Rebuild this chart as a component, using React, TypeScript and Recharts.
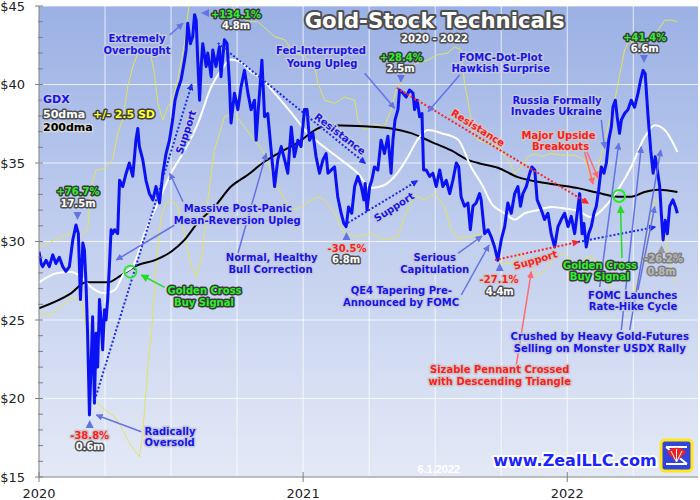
import React from 'react';
import { LineChart, Line, XAxis, YAxis, CartesianGrid, ReferenceLine, ReferenceDot } from 'recharts';

// time unit: years since 1 Jan 2020
type Pt = [number, number];

const gdx: Pt[] = [
  [0.000,29.35],[0.008,28.6],[0.014,28.4],[0.027,28.8],[0.039,28.4],[0.052,29.15],[0.064,28.6],[0.077,29.0],[0.090,28.4],[0.102,28.1],
  [0.115,28.4],[0.128,30.1],[0.140,31.05],[0.149,30.5],[0.157,26.3],[0.166,29.9],[0.172,29.45],[0.178,27.35],[0.184,24.15],[0.191,18.95],
  [0.197,22.0],[0.203,25.2],[0.210,19.7],[0.216,24.15],[0.222,22.0],[0.229,26.3],[0.235,25.0],[0.241,23.1],[0.248,25.65],[0.254,25.0],
  [0.260,26.3],[0.267,28.6],[0.273,30.75],[0.279,30.5],[0.286,30.75],[0.298,30.5],[0.305,33.9],[0.317,33.5],[0.330,34.35],[0.342,35.0],
  [0.355,34.15],[0.367,36.45],[0.374,37.2],[0.380,36.05],[0.393,35.2],[0.405,33.9],[0.418,33.05],[0.431,32.65],[0.443,33.5],[0.456,32.45],
  [0.469,34.35],[0.481,35.6],[0.494,36.45],[0.506,37.75],[0.515,39.0],[0.525,39.65],[0.538,40.3],[0.551,41.55],[0.557,42.2],[0.563,43.9],
  [0.573,42.6],[0.582,43.05],[0.589,44.45],[0.595,44.1],[0.601,41.55],[0.608,39.0],[0.614,41.15],[0.620,42.6],[0.633,41.15],[0.639,42.0],
  [0.652,40.5],[0.658,42.2],[0.670,41.15],[0.683,42.4],[0.689,40.5],[0.702,42.85],[0.712,42.6],[0.721,40.1],[0.727,37.55],[0.740,39.45],
  [0.753,38.4],[0.765,39.85],[0.778,40.9],[0.791,39.45],[0.803,38.4],[0.816,39.0],[0.822,36.45],[0.828,37.95],[0.835,39.45],[0.844,41.55],
  [0.854,37.95],[0.866,38.15],[0.879,35.8],[0.892,33.5],[0.904,35.2],[0.917,36.05],[0.930,35.2],[0.942,34.35],[0.955,37.3],[0.967,35.4],
  [0.980,36.45],[0.992,36.05],[1.005,38.4],[1.015,38.4],[1.024,36.45],[1.037,36.9],[1.049,35.4],[1.062,34.35],[1.075,35.2],[1.087,35.6],
  [1.094,34.35],[1.106,34.55],[1.119,34.75],[1.131,32.85],[1.144,31.8],[1.154,31.15],[1.163,30.95],[1.172,32.2],[1.184,31.8],[1.195,33.5],
  [1.207,34.15],[1.220,33.5],[1.230,32.65],[1.235,33.7],[1.242,32.0],[1.252,33.5],[1.260,33.9],[1.270,34.75],[1.283,34.55],[1.295,36.45],
  [1.308,35.6],[1.321,36.7],[1.333,34.35],[1.340,36.45],[1.348,37.75],[1.359,38.4],[1.365,39.65],[1.378,39.45],[1.390,39.2],[1.403,39.65],
  [1.416,39.45],[1.422,38.4],[1.432,39.0],[1.441,37.95],[1.450,38.15],[1.456,34.55],[1.466,34.55],[1.479,34.15],[1.491,34.35],[1.504,33.5],
  [1.517,34.55],[1.529,33.5],[1.542,33.9],[1.555,33.05],[1.567,33.9],[1.580,35.0],[1.589,34.75],[1.598,32.85],[1.611,32.25],[1.624,32.45],
  [1.633,30.75],[1.643,32.25],[1.655,32.45],[1.668,33.05],[1.674,32.65],[1.687,30.5],[1.700,30.75],[1.712,30.3],[1.725,29.65],[1.737,28.8],
  [1.750,30.1],[1.763,30.95],[1.775,32.45],[1.788,31.8],[1.801,33.05],[1.813,33.5],[1.823,32.25],[1.832,33.05],[1.845,33.5],[1.858,34.35],
  [1.866,34.75],[1.877,34.55],[1.886,32.65],[1.902,32.0],[1.914,31.4],[1.927,31.8],[1.939,30.5],[1.952,29.65],[1.965,30.95],[1.977,31.4],
  [1.990,31.8],[2.003,30.95],[2.015,31.6],[2.028,30.5],[2.041,32.25],[2.047,33.05],[2.056,30.5],[2.063,31.15],[2.072,29.65],[2.081,30.5],
  [2.091,30.95],[2.101,31.8],[2.110,32.25],[2.119,33.3],[2.129,34.75],[2.139,34.35],[2.148,35.0],[2.157,36.45],[2.167,37.3],[2.173,38.55],
  [2.182,39.0],[2.189,37.95],[2.198,36.9],[2.205,37.75],[2.217,38.15],[2.230,38.4],[2.242,39.0],[2.255,38.55],[2.268,39.45],[2.278,40.3],
  [2.287,40.9],[2.295,40.7],[2.306,37.95],[2.316,35.8],[2.325,34.35],[2.333,35.4],[2.341,34.55],[2.350,33.5],[2.356,31.8],[2.363,30.1],
  [2.371,31.35],[2.379,30.5],[2.388,32.25],[2.400,32.65],[2.409,32.25],[2.417,31.8],
];

const ma50: Pt[] = [
  [0.000,27.4],[0.071,28.0],[0.121,28.05],[0.159,27.75],[0.197,27.1],[0.248,26.7],[0.286,26.9],[0.323,28.0],[0.355,28.4],[0.399,30.5],
  [0.450,32.45],[0.500,34.35],[0.551,35.8],[0.601,37.5],[0.652,39.85],[0.689,40.9],[0.727,41.6],[0.765,41.4],[0.803,40.8],[0.847,40.3],
  [0.892,39.45],[0.955,38.2],[1.018,36.9],[1.081,36.0],[1.144,35.2],[1.207,34.35],[1.258,33.4],[1.308,33.6],[1.359,34.4],[1.397,35.4],
  [1.434,36.5],[1.472,37.1],[1.523,36.9],[1.586,36.5],[1.636,34.75],[1.681,33.5],[1.712,32.45],[1.763,31.8],[1.801,31.4],[1.839,31.8],
  [1.889,32.0],[1.939,32.2],[1.990,32.1],[2.041,31.95],[2.091,31.55],[2.142,32.2],[2.192,33.3],[2.242,34.75],[2.293,36.65],[2.331,37.4],
  [2.369,37.1],[2.417,35.7],
];

const ma200: Pt[] = [
  [0.000,25.75],[0.121,26.7],[0.178,27.4],[0.260,27.4],[0.311,27.85],[0.374,28.5],[0.437,28.8],[0.500,29.35],[0.551,30.1],[0.601,31.2],
  [0.664,32.2],[0.727,33.5],[0.791,34.25],[0.847,35.0],[0.904,35.6],[0.980,36.3],[1.056,37.2],[1.094,37.4],[1.207,37.35],[1.333,37.2],
  [1.409,36.9],[1.485,36.35],[1.561,35.8],[1.624,35.2],[1.662,35.0],[1.737,34.7],[1.813,34.1],[1.889,33.8],[1.965,33.6],[2.041,33.4],
  [2.116,33.1],[2.192,32.85],[2.242,32.85],[2.293,33.15],[2.344,33.3],[2.417,33.15],
];

const bandUpper: Pt[] = [
  [0.000,29.65],[0.020,29.75],[0.083,30.3],[0.121,30.5],[0.159,30.4],[0.184,30.75],[0.197,33.5],[0.216,34.55],[0.248,34.65],[0.279,35.2],
  [0.298,36.9],[0.317,37.75],[0.336,39.85],[0.355,41.15],[0.374,42.0],[0.399,42.2],[0.424,41.8],[0.437,40.7],[0.450,38.8],[0.469,37.75],
  [0.488,38.6],[0.506,39.0],[0.525,40.3],[0.551,42.6],[0.570,45.4],[0.610,47.0],[0.666,46.0],[0.722,45.2],[0.760,44.3],[0.798,44.0],
  [0.828,44.0],[0.866,43.45],[0.892,43.05],[0.930,42.85],[0.967,42.0],[1.005,41.8],[1.043,41.15],[1.056,40.1],[1.081,39.0],[1.119,38.8],
  [1.157,39.2],[1.195,39.0],[1.207,37.75],[1.233,37.1],[1.270,37.5],[1.308,37.3],[1.333,38.4],[1.352,39.65],[1.371,40.1],[1.397,41.15],
  [1.434,41.35],[1.472,41.55],[1.510,41.9],[1.548,42.0],[1.573,42.4],[1.598,42.2],[1.611,40.1],[1.630,38.4],[1.643,36.9],[1.662,36.45],
  [1.700,36.25],[1.737,36.05],[1.775,35.2],[1.801,34.35],[1.826,34.75],[1.851,35.4],[1.877,35.6],[1.902,35.4],[1.939,35.6],[1.977,35.5],
  [2.028,35.5],[2.066,35.2],[2.091,34.0],[2.110,34.2],[2.129,35.6],[2.154,37.3],[2.180,39.0],[2.205,41.15],[2.217,42.2],[2.236,42.85],
  [2.255,42.4],[2.293,42.6],[2.318,42.85],[2.344,43.45],[2.369,44.1],[2.394,44.1],[2.417,44.0],
];

const bandLower: Pt[] = [
  [0.000,25.45],[0.045,25.3],[0.121,26.4],[0.159,26.3],[0.184,24.15],[0.210,19.9],[0.248,19.3],[0.286,18.85],[0.311,18.2],[0.336,17.35],
  [0.361,16.7],[0.380,16.3],[0.393,17.8],[0.412,22.0],[0.431,25.2],[0.443,28.4],[0.462,31.6],[0.481,32.45],[0.500,32.65],[0.525,32.2],
  [0.551,30.5],[0.576,28.4],[0.595,27.75],[0.614,28.8],[0.639,32.65],[0.664,35.8],[0.702,37.95],[0.740,38.15],[0.778,37.3],[0.816,36.45],
  [0.847,35.8],[0.866,35.0],[0.904,33.5],[0.930,32.65],[0.955,32.0],[0.992,32.2],[1.030,32.65],[1.056,32.85],[1.081,32.65],[1.119,31.8],
  [1.157,30.5],[1.207,30.3],[1.258,30.5],[1.308,30.1],[1.359,30.3],[1.384,31.6],[1.409,32.45],[1.434,32.85],[1.460,32.65],[1.498,33.05],
  [1.536,32.2],[1.561,30.75],[1.586,30.2],[1.636,30.3],[1.681,30.5],[1.700,30.75],[1.725,29.65],[1.750,28.6],[1.788,28.6],[1.826,29.25],
  [1.864,28.4],[1.889,27.75],[1.927,28.4],[1.952,29.05],[1.990,29.25],[2.015,28.7],[2.041,28.4],[2.078,29.05],[2.116,28.75],[2.142,27.95],
  [2.167,26.9],[2.192,26.3],[2.217,25.85],[2.255,26.9],[2.293,29.25],[2.331,32.65],[2.350,32.45],[2.369,30.5],[2.388,28.6],[2.417,27.35],
];

// trend lines (start, end) in [years since 2020, price]
const blueTrends: [Pt, Pt][] = [
  [[0.211,19.9],[0.578,40.0]],
  [[0.677,42.64],[1.234,35.0]],
  [[1.169,31.18],[1.431,33.85]],
  [[2.041,29.97],[2.332,30.92]],
];
const redTrends: [Pt, Pt][] = [
  [[1.355,39.78],[2.078,32.45]],
  [[1.726,28.82],[2.041,29.97]],
];
const goldenCrosses: Pt[] = [[0.346,28.08],[2.196,32.9]];

const yearTicks = [0, 1, 2];
const baseYear = 2020;
const quarterLines = [0.25,0.5,0.75,1,1.25,1.5,1.75,2,2.25];
const priceGrid = [15,20,25,30,35,40,45];
const priceTicks = [15,16,17,18,19,20,21,22,23,24,25,26,27,28,29,30,31,32,33,34,35,36,37,38,39,40,41,42,43,44,45];

const rows = (pts: Pt[]) => pts.map(([t, p]) => ({ t, p }));

const FONT = "'DejaVu Sans', Verdana, sans-serif";

const YTick = (props: any) => {
  const { x, y, payload } = props;
  const v = payload.value;
  const major = v % 5 === 0;
  return (
    <g>
      <line x1={major ? x - 4 : x - 1} x2={x + 4} y1={y} y2={y} stroke="#808080" strokeWidth={1} />
      {major && (
        <text x={x - 14} y={y} dy="0.36em" textAnchor="end" fontFamily={FONT} fontSize={13} fill="#222">
          {'$' + v}
        </text>
      )}
    </g>
  );
};

const XTick = (props: any) => {
  const { x, y, payload } = props;
  return (
    <g>
      <line x1={x} x2={x} y1={y - 5} y2={y + 5} stroke="#808080" strokeWidth={1} />
      <text x={x} y={y + 21} textAnchor="middle" fontFamily={FONT} fontSize={13} fill="#222">
        {String(baseYear + payload.value)}
      </text>
    </g>
  );
};

const STY: Record<string, { fill: string; stroke: string }> = {
  blue: { fill: '#1414f0', stroke: '#c6c8d8' },
  red: { fill: '#ff1c1c', stroke: '#c8c8cc' },
  green: { fill: '#2cf02c', stroke: '#3a3a3a' },
  white: { fill: '#ffffff', stroke: '#4e4e4e' },
  gray: { fill: '#b8b8b8', stroke: '#808080' },
  yellow: { fill: '#ffff2a', stroke: '#404040' },
  black: { fill: '#000000', stroke: '#d8d8d8' },
};

const T = ({ x, y, s, k = 'blue', size = 10, anchor = 'middle', rot = 0, sw = 3, central = false, len }: any) => (
  <text
    x={x}
    y={y}
    textAnchor={anchor}
    dominantBaseline={central ? 'central' : undefined}
    fontFamily={FONT}
    fontWeight="bold"
    fontSize={size}
    fill={STY[k].fill}
    stroke={STY[k].stroke}
    strokeWidth={sw}
    strokeLinejoin="round"
    paintOrder="stroke"
    textLength={len}
    lengthAdjust={len ? 'spacingAndGlyphs' : undefined}
    transform={rot ? `rotate(${rot} ${x} ${y})` : undefined}
  >
    {s}
  </text>
);

const ARROW_BLUE = '#6373e6';
const ARROW_RED = '#ff6a6a';
const ARROW_GREEN = '#22dd22';

const Arr = ({ a, c = 'b' }: any) => {
  const col = c === 'r' ? ARROW_RED : c === 'g' ? ARROW_GREEN : ARROW_BLUE;
  const id = c === 'r' ? 'ahR' : c === 'g' ? 'ahG' : 'ahB';
  return <line x1={a[0]} y1={a[1]} x2={a[2]} y2={a[3]} stroke={col} strokeWidth={1.5} markerEnd={`url(#${id})`} />;
};

const Tri = ({ x, y, d, col = ARROW_BLUE }: any) => {
  const s = 4;
  let pts = '';
  if (d === 'down') pts = `${x - s},${y - s} ${x + s},${y - s} ${x},${y + s}`;
  else if (d === 'up') pts = `${x - s},${y + s} ${x + s},${y + s} ${x},${y - s}`;
  else pts = `${x + s},${y - s} ${x + s},${y + s} ${x - s},${y}`;
  return <polygon points={pts} fill={col} />;
};

const Overlay = () => (
  <svg width={700} height={500} style={{ position: 'absolute', left: 0, top: 0, pointerEvents: 'none' }}>
    <defs>
      <marker id="ahB" viewBox="0 0 10 10" refX="9" refY="5" markerWidth="7" markerHeight="7" markerUnits="userSpaceOnUse" orient="auto">
        <path d="M0,0 L10,5 L0,10 z" fill={ARROW_BLUE} />
      </marker>
      <marker id="ahR" viewBox="0 0 10 10" refX="9" refY="5" markerWidth="7" markerHeight="7" markerUnits="userSpaceOnUse" orient="auto">
        <path d="M0,0 L10,5 L0,10 z" fill={ARROW_RED} />
      </marker>
      <marker id="ahG" viewBox="0 0 10 10" refX="9" refY="5" markerWidth="8" markerHeight="8" markerUnits="userSpaceOnUse" orient="auto">
        <path d="M0,0 L10,5 L0,10 z" fill={ARROW_GREEN} />
      </marker>
    </defs>

    {/* arrows */}
    <Arr a={[169.7, 35, 183, 23.3]} />
    <Arr a={[183, 201.7, 169.7, 173.3]} />
    <Arr a={[174.7, 225, 116.3, 260]} />
    <Arr a={[238, 253, 266.3, 153.3]} />
    <Arr a={[141.3, 431.7, 96.3, 415]} />
    <Arr a={[364.7, 73.3, 394.7, 108.3]} />
    <Arr a={[459.7, 75, 428, 111.7]} />
    <Arr a={[458, 253.3, 482, 236]} />
    <Arr a={[461.3, 295, 489, 245]} />
    <Arr a={[601.3, 120, 604.7, 148.3]} />
    <Arr a={[599.7, 287, 618.7, 143.3]} />
    <Arr a={[638, 290, 654.7, 206.7]} />
    <Arr a={[621.3, 330, 641.3, 146.7]} />
    <Arr a={[629.7, 330, 660.7, 150]} />
    <Arr a={[584.7, 152, 593, 184]} c="r" />
    <Arr a={[587, 152, 598, 178]} c="r" />
    <Arr a={[516.3, 365, 531.3, 271.7]} c="r" />
    <Arr a={[164.7, 287.3, 141.3, 275]} c="g" />
    <Arr a={[622, 258, 620.5, 206]} c="g" />

    {/* peak / trough markers */}
    <Tri x={205} y={13} d="left" />
    <Tri x={77.5} y={216} d="down" />
    <Tri x={89.7} y={424} d="up" />
    <Tri x={401} y={79} d="down" />
    <Tri x={346.5} y={236} d="up" />
    <Tri x={499.7} y={267} d="up" />
    <Tri x={644} y={59} d="down" />
    <Tri x={661.5} y={249} d="up" col="#999999" />

    {/* title */}
    <T x={434.7} y={28} s="Gold-Stock Technicals" k="white" size={21} sw={4} len={260} />
    <T x={434.5} y={42} s="2020 - 2022" k="white" size={10} />

    {/* legend */}
    <T x={43} y={103} s="GDX" k="blue" size={11} anchor="start" />
    <T x={43} y={118} s="50dma" k="white" size={11} anchor="start" />
    <T x={93} y={118} s="+/- 2.5 SD" k="yellow" size={11} anchor="start" />
    <T x={43} y={131} s="200dma" k="black" size={11} anchor="start" />

    {/* annotations */}
    <T x={236} y={17.5} s="+134.1%" k="green" />
    <T x={236} y={29.3} s="4.8m" k="white" />
    <T x={137} y={42.3} s="Extremely" />
    <T x={137} y={54.3} s="Overbought" />
    <T x={78} y={195.3} s="+76.7%" k="green" />
    <T x={78} y={207.3} s="17.5m" k="white" />
    <T x={237.8} y={212.3} s="Massive Post-Panic" />
    <T x={237.3} y={224.3} s="Mean-Reversion Upleg" />
    <T x={271.7} y={261.3} s="Normal, Healthy" />
    <T x={270.5} y={273.3} s="Bull Correction" />
    <T x={204.5} y={294.3} s="Golden Cross" k="green" />
    <T x={204} y={306} s="Buy Signal" k="green" />
    <T x={170} y={435} s="Radically" />
    <T x={169.7} y={446.3} s="Oversold" />
    <T x={89.7} y={439} s="-38.8%" k="red" />
    <T x={89.7} y={450.3} s="0.6m" k="white" />
    <T x={321} y={54} s="Fed-Interrupted" />
    <T x={322} y={66.6} s="Young Upleg" />
    <T x={401.3} y={60.6} s="+28.4%" k="green" />
    <T x={400.5} y={72.3} s="2.5m" k="white" />
    <T x={500.7} y={60.6} s="FOMC-Dot-Plot" />
    <T x={500.7} y={72.3} s="Hawkish Surprise" />
    <T x={347} y={252.3} s="-30.5%" k="red" />
    <T x={346} y={262.5} s="6.8m" k="white" />
    <T x={434.7} y={261.3} s="Serious" />
    <T x={434.7} y={273.3} s="Capitulation" />
    <T x={401.3} y={294.3} s="QE4 Tapering Pre-" />
    <T x={401} y={305.6} s="Announced by FOMC" />
    <T x={499} y={283.3} s="-27.1%" k="red" />
    <T x={499.7} y={295.3} s="4.4m" k="white" />
    <T x={557} y={104} s="Russia Formally" />
    <T x={556.5} y={115.3} s="Invades Ukraine" />
    <T x={558.5} y={139} s="Major Upside" k="red" />
    <T x={560.5} y={150.3} s="Breakouts" k="red" />
    <T x={644.7} y={40.6} s="+41.4%" k="green" />
    <T x={644.7} y={52.3} s="6.6m" k="white" />
    <T x={600} y={269} s="Golden Cross" k="green" />
    <T x={599.7} y={280.3} s="Buy Signal" k="green" />
    <T x={663.5} y={262.3} s="-26.2%" k="gray" />
    <T x={661.5} y={275.3} s="0.8m" k="gray" />
    <T x={632.7} y={299} s="FOMC Launches" />
    <T x={633} y={310.3} s="Rate-Hike Cycle" />
    <T x={599.7} y={340} s="Crushed by Heavy Gold-Futures" />
    <T x={599.7} y={352.3} s="Selling on Monster USDX Rally" />
    <T x={499.7} y={373.3} s="Sizable Pennant Crossed" k="red" />
    <T x={499.7} y={385.3} s="with Descending Triangle" k="red" />

    {/* rotated trend labels */}
    <T x={186} y={132} s="Support" rot={-72} central />
    <T x={340} y={134} s="Resistance" rot={37.5} central />
    <T x={478} y={128} s="Resistance" k="red" rot={32} central />
    <T x={394} y={207} s="Support" rot={-32.6} central />
    <T x={535.5} y={260} s="Support" k="red" rot={-16.6} central />

    {/* footer */}
    <text x={438.8} y={472.5} textAnchor="middle" fontFamily="'Liberation Sans', Arial, sans-serif" fontWeight="bold" fontSize={11} fill="#ffffff">6.1.2022</text>
    <text x={575} y={466} textAnchor="middle" fontFamily={FONT} fontWeight="bold" fontSize={16} fill="#1a24ff" stroke="#ffffff" strokeWidth={4} strokeLinejoin="round" paintOrder="stroke">www.ZealLLC.com</text>

    {/* logo */}
    <g>
      <rect x={661} y={440} width={31} height={31} rx={4} fill="#3344dd" stroke="#ffe818" strokeWidth={3} />
      <path d="M666,447 L687,447 M666,447 L687,464 M666,464 L687,464" stroke="#ffffff" strokeWidth={2} fill="none" />
      <path d="M676.5,462 L667,452 A13,13 0 0 1 686,452 Z" fill="#ee2222" />
      <path d="M676.5,462 L671,451 M676.5,462 L676.5,449 M676.5,462 L682,451" stroke="#ffffff" strokeWidth={1} />
    </g>
  </svg>
);

export default function App() {
  return (
    <div style={{ position: 'absolute', left: 0, top: 0, width: 700, height: 500, background: '#ffffff' }}>
      <svg width={0} height={0} style={{ position: 'absolute' }}>
        <defs>
          <linearGradient id="bgGrad" x1="0" y1="0" x2="0" y2="1">
            <stop offset="0%" stopColor="#9bb1e5" />
            <stop offset="50%" stopColor="#c2cfee" />
            <stop offset="100%" stopColor="#e3e9f6" />
          </linearGradient>
          <marker id="tdB" viewBox="0 0 10 10" refX="8" refY="5" markerWidth="7" markerHeight="7" markerUnits="userSpaceOnUse" orient="auto">
            <path d="M0,0 L10,5 L0,10 z" fill="#1a2aee" />
          </marker>
          <marker id="tdR" viewBox="0 0 10 10" refX="8" refY="5" markerWidth="7" markerHeight="7" markerUnits="userSpaceOnUse" orient="auto">
            <path d="M0,0 L10,5 L0,10 z" fill="#ff2222" />
          </marker>
        </defs>
      </svg>
      <LineChart width={700} height={500} margin={{ top: 6, right: 2, left: 0, bottom: 0 }}>
        <CartesianGrid
          horizontalValues={priceGrid}
          verticalValues={quarterLines}
          stroke="#ffffff"
          strokeOpacity={0.75}
          fill="url(#bgGrad)"
          fillOpacity={1}
        />
        <XAxis
          type="number"
          dataKey="t"
          domain={[0, 2.495]}
          ticks={yearTicks}
          allowDataOverflow
          tickLine={false}
          tickSize={0}
          tickMargin={0}
          height={23}
          axisLine={{ stroke: '#808080' }}
          tick={<XTick />}
          interval={0}
        />
        <YAxis
          type="number"
          domain={[15, 45]}
          ticks={priceTicks}
          allowDataOverflow
          tickLine={false}
          tickSize={0}
          tickMargin={0}
          width={39}
          axisLine={{ stroke: '#808080' }}
          tick={<YTick />}
          interval={0}
        />
        <Line data={rows(bandUpper)} dataKey="p" type="linear" stroke="#e4e45a" strokeWidth={1} dot={false} activeDot={false} isAnimationActive={false} />
        <Line data={rows(bandLower)} dataKey="p" type="linear" stroke="#e4e45a" strokeWidth={1} dot={false} activeDot={false} isAnimationActive={false} />
        <Line data={rows(ma200)} dataKey="p" type="monotone" stroke="#000000" strokeWidth={2} dot={false} activeDot={false} isAnimationActive={false} />
        <Line data={rows(ma50)} dataKey="p" type="monotone" stroke="#ffffff" strokeWidth={2} dot={false} activeDot={false} isAnimationActive={false} />
        <Line data={rows(gdx)} dataKey="p" type="linear" stroke="#0a12f5" strokeWidth={3} strokeLinejoin="round" dot={false} activeDot={false} isAnimationActive={false} />
        {blueTrends.map((s, i) => (
          <ReferenceLine
            key={'b' + i}
            segment={[{ x: s[0][0], y: s[0][1] }, { x: s[1][0], y: s[1][1] }]}
            stroke="#1a2aee"
            strokeWidth={2}
            strokeDasharray="2 2"
            markerEnd="url(#tdB)"
          />
        ))}
        {redTrends.map((s, i) => (
          <ReferenceLine
            key={'r' + i}
            segment={[{ x: s[0][0], y: s[0][1] }, { x: s[1][0], y: s[1][1] }]}
            stroke="#ff2222"
            strokeWidth={2}
            strokeDasharray="2 2"
            markerEnd="url(#tdR)"
          />
        ))}
        {goldenCrosses.map((g, i) => (
          <ReferenceDot key={'g' + i} x={g[0]} y={g[1]} r={6} fill="none" stroke="#22ee22" strokeWidth={2} />
        ))}
      </LineChart>
      <Overlay />
    </div>
  );
}
